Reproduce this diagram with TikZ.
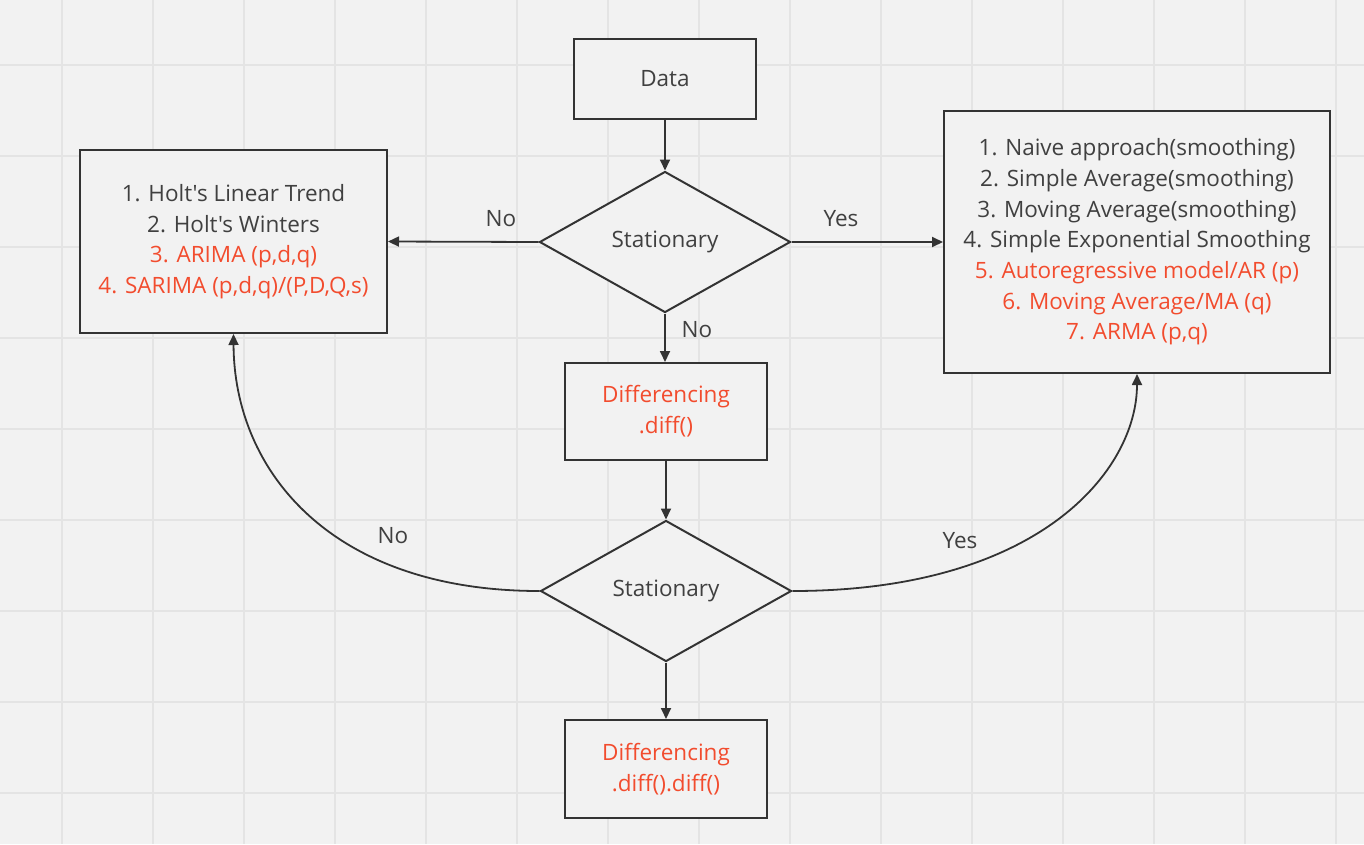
\documentclass[tikz,border=0pt]{standalone}
\usepackage{fontspec}
\setmainfont{Open Sans}[Ligatures=TeXOff]
\usetikzlibrary{shapes.geometric,arrows.meta}
\definecolor{bg}{RGB}{242,242,242}
\definecolor{gridc}{RGB}{228,228,228}
\definecolor{ink}{RGB}{51,51,51}
\definecolor{txt}{RGB}{64,64,64}
\definecolor{hot}{RGB}{242,76,46}
\tikzset{
  box/.style={draw=ink, line width=2pt, fill=bg, align=center, text=txt, inner sep=0pt},
  dia/.style={draw=ink, line width=2pt, fill=bg, diamond, aspect=1.78, inner sep=0pt, minimum width=251pt, minimum height=141pt, text=txt},
  conn/.style={draw=ink, line width=1.8pt, -{Triangle[length=11pt,width=10pt]}},
  lbl/.style={text=txt},
}
\begin{document}
\begin{tikzpicture}[x=1pt,y=-1pt,font=\fontsize{22.5}{30.7}\selectfont]
\useasboundingbox (0,0) rectangle (1364,844);
\fill[bg] (0,0) rectangle (1364,844);
\foreach \gx in {62,153,...,1364} \draw[gridc, line width=1.5pt] (\gx,0) -- (\gx,844);
\foreach \gy in {65,156,...,844} \draw[gridc, line width=1.5pt] (0,\gy) -- (1364,\gy);

\node[box, minimum width=182pt, minimum height=80pt] (data) at (665,79) {Data};
\node[dia] (d1) at (665,242) {Stationary};
\node[box, minimum width=307pt, minimum height=183pt] (lbox) at (233.5,241.5)
  {1. Holt's Linear Trend\\2. Holt's Winters\\\textcolor{hot}{3. ARIMA (p,d,q)}\\\textcolor{hot}{4. SARIMA (p,d,q)/(P,D,Q,s)}};
\node[box, minimum width=386pt, minimum height=262pt] (rbox) at (1137,242)
  {1. Naive approach(smoothing)\\2. Simple Average(smoothing)\\3. Moving Average(smoothing)\\4. Simple Exponential Smoothing\\\textcolor{hot}{5. Autoregressive model/AR (p)}\\\textcolor{hot}{6. Moving Average/MA (q)}\\\textcolor{hot}{7. ARMA (p,q)}};
\node[box, minimum width=202pt, minimum height=97pt, text=hot] (diff1) at (666,411.5) {Differencing\\.diff()};
\node[dia] (d2) at (666,591) {Stationary};
\node[box, minimum width=202pt, minimum height=98pt, text=hot] (diff2) at (666,769) {Differencing\\.diff().diff()};

\draw[conn] (data) -- (d1);
\draw[conn] (d1.west) -- (lbox.east);
\draw[conn] (d1.east) -- (rbox.west |- d1.east);
\draw[conn] (d1.south) -- (diff1.north -| d1.south);
\draw[conn] (diff1.south -| d2.north) -- (d2.north);
\draw[conn] (d2.south) -- (diff2.north);
\draw[conn] (d2.west) .. controls (330,591) and (234,470) .. (lbox.south);
\draw[conn] (d2.east) .. controls (1040,591) and (1137,470) .. (rbox.south);

\node[lbl] (l1) at (501,219) {No};
\node[lbl] (l2) at (841,219) {Yes};
\node[lbl] (l3) at (697,330) {No};
\node[lbl] (l4) at (393,536) {No};
\node[lbl] (l5) at (960,541) {Yes};
\end{tikzpicture}
\end{document}
